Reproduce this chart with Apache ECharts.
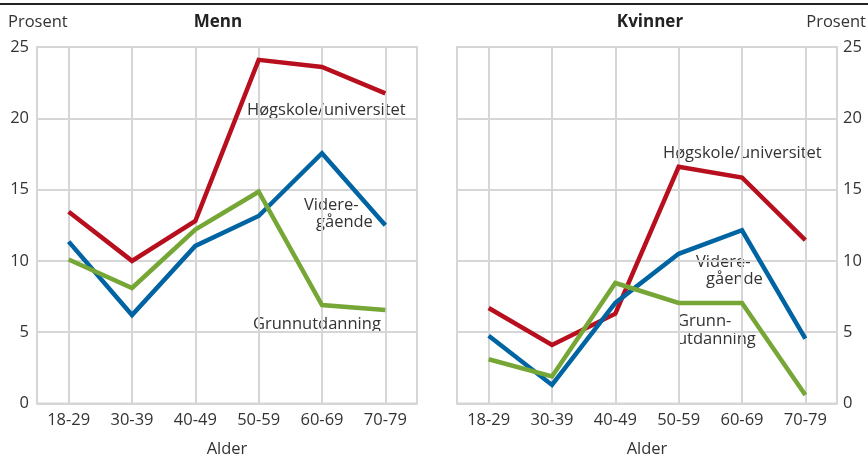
<!DOCTYPE html>
<html><head><meta charset="utf-8">
<script src="https://cdn.jsdelivr.net/npm/echarts@6/dist/echarts.min.js"></script>
<style>html,body{margin:0;padding:0;background:#fff}#c{width:868px;height:455px}</style>
</head><body><div id="c"></div>
<script>
const categories = ['18-29','30-39','40-49','50-59','60-69','70-79'];
const yTicks = [0,5,10,15,20,25];
const mennHoyskole = [13.45,10.0,12.8,24.1,23.6,21.75];
const mennVgs = [11.35,6.2,11.05,13.15,17.55,12.5];
const mennGrunn = [10.1,8.1,12.2,14.85,6.9,6.55];
const kvinnerHoyskole = [6.7,4.1,6.3,16.6,15.85,11.45];
const kvinnerVgs = [4.75,1.3,7.05,10.5,12.15,4.55];
const kvinnerGrunn = [3.1,1.9,8.45,7.05,7.05,0.6];

const RED='#b80f1e', BLUE='#0064a3', GREEN='#76a736', GRID='#d6d6d6', TXT='#333333';
const FONT='"Open Sans", "Noto Sans", sans-serif';
const chart = echarts.init(document.getElementById('c'));

function xAx(gi){return {type:'category',gridIndex:gi,data:categories,boundaryGap:true,
  axisLine:{show:false},axisTick:{show:false},
  axisLabel:{color:TXT,fontSize:16.5,fontFamily:FONT,margin:8},
  splitLine:{show:true,alignWithLabel:true,lineStyle:{color:GRID,width:2}},
  name:'Alder',nameLocation:'middle',nameGap:37,nameTextStyle:{color:TXT,fontSize:16.5,fontFamily:FONT}};}
function yAx(gi,pos){return {type:'value',gridIndex:gi,min:yTicks[0],max:yTicks[yTicks.length-1],interval:5,position:pos,
  axisLine:{show:false},axisTick:{show:false},
  axisLabel:{color:TXT,fontSize:16.5,fontFamily:FONT,margin:pos==='left'?8:6},
  splitLine:{show:true,lineStyle:{color:GRID,width:2}}};}
function ser(gi,data,color){return {type:'line',xAxisIndex:gi,yAxisIndex:gi,data:data,symbol:'none',
  lineStyle:{color:color,width:4.5,join:'miter'},itemStyle:{color:color},silent:true,animation:false};}
function txt(x,y,s,opts){return Object.assign({type:'text',x:x,y:y,style:Object.assign({text:s,fill:TXT,font:'16.5px '+FONT,textVerticalAlign:'middle'},opts||{})});}

chart.setOption({
  animation:false,
  grid:[
    {left:37,right:451,top:47,bottom:51.5,show:true,borderColor:GRID,borderWidth:2,containLabel:false,outerBoundsMode:'none'},
    {left:457,right:31,top:47,bottom:51.5,show:true,borderColor:GRID,borderWidth:2,containLabel:false,outerBoundsMode:'none'}
  ],
  xAxis:[xAx(0),xAx(1)],
  yAxis:[yAx(0,'left'),yAx(1,'right')],
  series:[
    ser(0,mennHoyskole,RED),ser(0,mennVgs,BLUE),ser(0,mennGrunn,GREEN),
    ser(1,kvinnerHoyskole,RED),ser(1,kvinnerVgs,BLUE),ser(1,kvinnerGrunn,GREEN)
  ],
  graphic:[
    {type:'line',shape:{x1:0,y1:4,x2:868,y2:4},style:{stroke:'#222',lineWidth:1.8}},
    txt(8,22,'Prosent'),
    txt(866,22,'Prosent',{textAlign:'right'}),
    txt(218,22,'Menn',{textAlign:'center',font:'bold 17px '+FONT,fill:'#222'}),
    txt(650,22,'Kvinner',{textAlign:'center',font:'bold 17px '+FONT,fill:'#222'}),
    txt(247,110,'Høgskole/universitet'),
    txt(304,205,'Videre-'),
    txt(316,222,'gående'),
    txt(253,324,'Grunnutdanning'),
    txt(663,153,'Høgskole/universitet'),
    txt(696,262,'Videre-'),
    txt(706,279,'gående'),
    txt(677,321,'Grunn-'),
    txt(677,339,'utdanning')
  ]
});
</script></body></html>
